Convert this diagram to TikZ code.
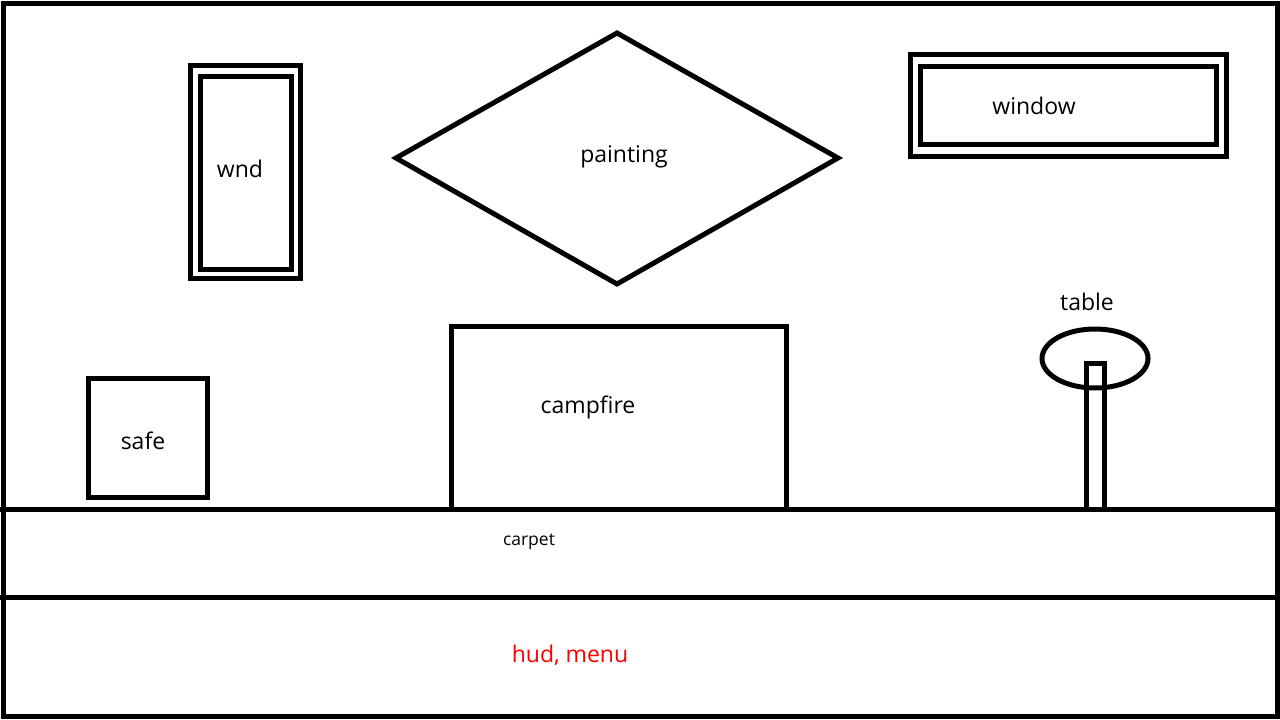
\documentclass[tikz,border=0pt]{standalone}
\usepackage{fontspec}
\setmainfont{Open Sans}
\usetikzlibrary{shapes.geometric}
\begin{document}
\begin{tikzpicture}[x=1pt,y=-1pt,
  outline/.style={draw=black,line width=5pt},
  lbl/.style={font=\fontsize{23}{27}\selectfont,inner sep=0pt},
  small/.style={font=\fontsize{17.5}{21}\selectfont,inner sep=0pt}]
\useasboundingbox (0,0) rectangle (1280,720);
\fill[white] (0,0) rectangle (1280,720);
% outer frame
\draw[outline] (3,3) rectangle (1277,716);
\draw[outline] (0,509) -- (1280,509);
\draw[outline] (0,597) -- (1280,597);
% wnd
\draw[outline] (190.5,65.5) rectangle (300.5,278.5);
\draw[outline] (200,76.5) rectangle (291,269.5);
\node[lbl] (wnd) at (240,169) {wnd};
% painting
\draw[outline] (617,33) -- (838,158) -- (617,284) -- (396,158) -- cycle;
\node[lbl] (painting) at (624,157) {painting};
% window
\draw[outline] (910,54.5) rectangle (1226,156);
\draw[outline] (920,66.5) rectangle (1216,144);
\node[lbl] (window) at (1034,106) {window};
% table
\node[lbl] (tablelbl) at (1087,302) {table};
\draw[outline] (1095,358.5) ellipse [x radius=53, y radius=29.5];
\draw[outline] (1086,363) rectangle (1104,509);
% safe
\draw[outline] (88,378) rectangle (207,497);
\node[lbl] (safe) at (143,441) {safe};
% campfire
\draw[outline] (451,509) -- (451,326) -- (786,326) -- (786,509);
\node[lbl] (campfire) at (588,407) {campfire};
% carpet
\node[small] (carpet) at (529,542) {carpet};
% hud
\node[lbl,text=red] (hud) at (570,655) {hud, menu};
\end{tikzpicture}
\end{document}
